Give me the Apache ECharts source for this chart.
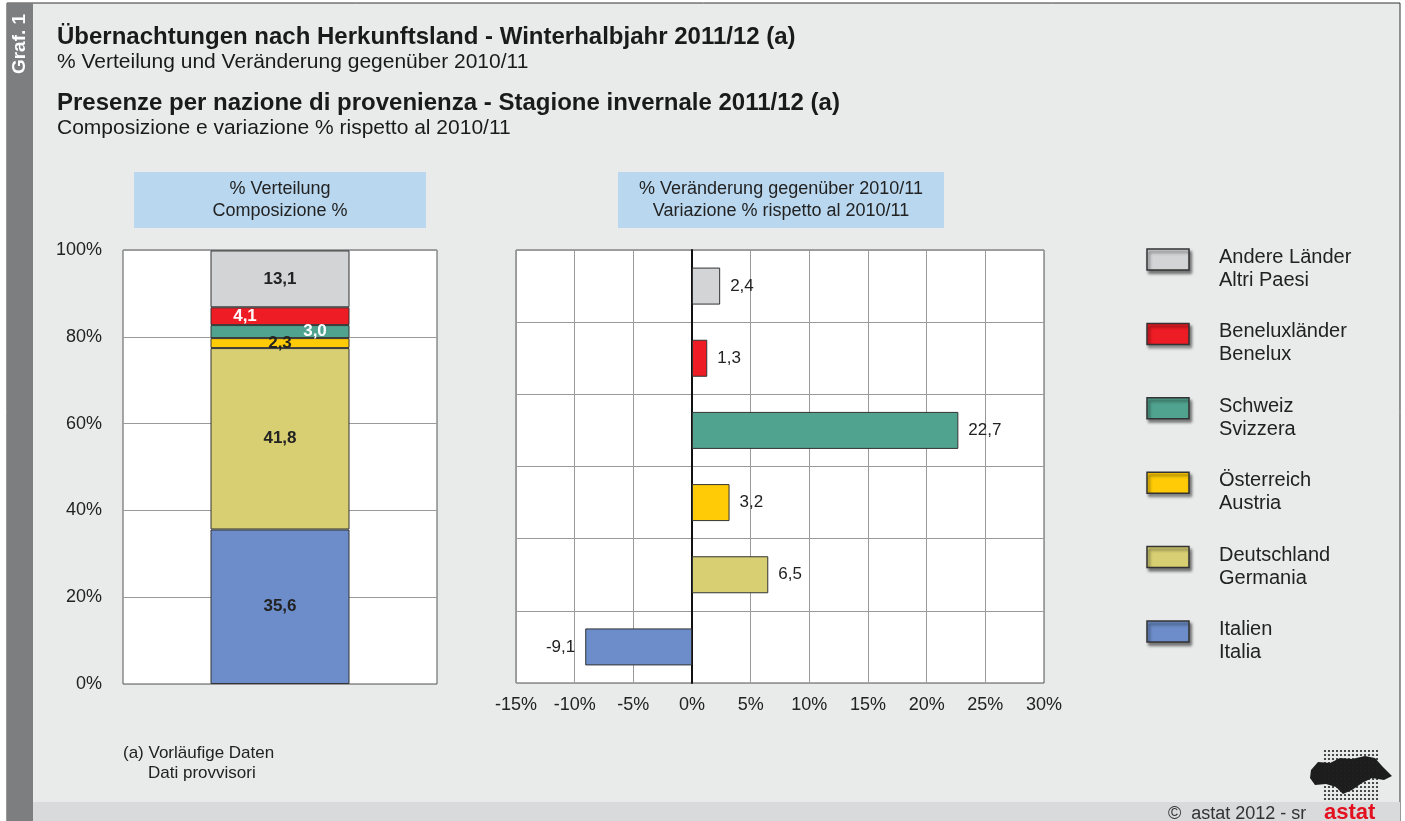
<!DOCTYPE html>
<html>
<head>
<meta charset="utf-8">
<script src="https://cdn.jsdelivr.net/npm/echarts@6/dist/echarts.min.js"></script>
<style>
  html, body { margin: 0; padding: 0; background: #fff; }
  #chart { width: 1405px; height: 821px; }
</style>
</head>
<body>
<div id="chart"></div>
<script>
// Daten (Anteil in %, Veränderung in %)
const seriesNames = ['Italien\nItalia', 'Deutschland\nGermania', 'Österreich\nAustria',
  'Schweiz\nSvizzera', 'Beneluxländer\nBenelux', 'Andere Länder\nAltri Paesi'];
const shareValues = [35.6, 41.8, 2.3, 3.0, 4.1, 13.1];
const changeValues = [-9.1, 6.5, 3.2, 22.7, 1.3, 2.4];
const colors = ['#6c8dc9', '#d7cf72', '#fecb06', '#50a38f', '#ee1c25', '#d3d4d6'];
const shareTicks = [0, 20, 40, 60, 80, 100];
const changeTicks = [-15, -10, -5, 0, 5, 10, 15, 20, 25, 30];

const fmt = v => v.toFixed(1).replace('.', ',');
const FONT = 'Liberation Sans, Arial, sans-serif';

// Label-Stil je Segment (Position im gestapelten Balken)
const shareLabel = [
  { color: '#222', offset: [0, 0] },
  { color: '#222', offset: [0, 0] },
  { color: '#222', offset: [0, 0] },
  { color: '#fff', offset: [35, 0] },
  { color: '#fff', offset: [-35, 0] },
  { color: '#222', offset: [0, 0] }
];

const leftSeries = seriesNames.map((name, i) => ({
  name: name,
  type: 'bar',
  stack: 'share',
  xAxisIndex: 0,
  yAxisIndex: 0,
  barWidth: 139,
  data: [shareValues[i]],
  itemStyle: { color: colors[i], borderColor: '#333', borderWidth: 1 },
  label: {
    show: true,
    position: 'inside',
    offset: shareLabel[i].offset,
    color: shareLabel[i].color,
    fontWeight: 'bold',
    fontSize: 17,
    fontFamily: FONT,
    formatter: p => fmt(p.value)
  },
  emphasis: { disabled: true }
}));

const rightSeries = {
  name: 'change',
  type: 'bar',
  xAxisIndex: 1,
  yAxisIndex: 1,
  barWidth: 37,
  data: changeValues.map((v, i) => ({
    value: v,
    itemStyle: { color: colors[i] },
    label: { position: v < 0 ? 'left' : 'right' }
  })),
  itemStyle: { borderColor: '#333', borderWidth: 1 },
  label: {
    show: true,
    distance: 10,
    color: '#222',
    fontSize: 17,
    fontFamily: FONT,
    formatter: p => fmt(p.value)
  },
  emphasis: { disabled: true }
};

// Legende (von oben nach unten)
const legendItems = [];
seriesNames.slice().reverse().forEach((name, k) => {
  const cy = 260 + k * 74.4;
  const c = colors[seriesNames.length - 1 - k];
  legendItems.push({
    type: 'rect', shape: { x: 1147, y: cy - 11, width: 42, height: 21 },
    style: { fill: c, stroke: '#333', lineWidth: 1.5, shadowColor: 'rgba(0,0,0,0.5)', shadowBlur: 3, shadowOffsetX: 2, shadowOffsetY: 3 }
  });
  legendItems.push({
    type: 'text', x: 1219, y: cy + 9,
    style: { text: name, fill: '#222', font: '20px ' + FONT, verticalAlign: 'middle', lineHeight: 23 }
  });
});

// Logo: Punkteraster
const dots = [];
for (let x = 1325; x <= 1377; x += 4) {
  for (let y = 751; y <= 800; y += 4) {
    dots.push({ type: 'circle', shape: { cx: x, cy: y, r: 1.1 }, style: { fill: '#222' }, silent: true });
  }
}

const option = {
  animation: false,
  backgroundColor: '#fff',
  textStyle: { fontFamily: FONT },
  graphic: [
    { type: 'rect', shape: { x: 7, y: 3, width: 1393, height: 830 }, style: { fill: '#e9eaea', stroke: '#333', lineWidth: 1 }, z: -10 },
    { type: 'rect', shape: { x: 33, y: 802, width: 1367, height: 30 }, style: { fill: '#d9dadb' }, z: -9 },
    { type: 'rect', shape: { x: 7, y: 3, width: 26, height: 830 }, style: { fill: '#7d7e80' }, z: -8 },
    { type: 'text', x: 20, y: 44, rotation: Math.PI / 2, style: { text: 'Graf. 1', fill: '#fff', font: 'bold 19px ' + FONT, align: 'center', verticalAlign: 'middle' } },
    { type: 'text', x: 57, y: 37, style: { text: 'Übernachtungen nach Herkunftsland - Winterhalbjahr 2011/12 (a)', fill: '#1a1a1a', font: 'bold 24px ' + FONT, verticalAlign: 'middle' } },
    { type: 'text', x: 57, y: 62, style: { text: '% Verteilung und Veränderung gegenüber 2010/11', fill: '#1a1a1a', font: '21px ' + FONT, verticalAlign: 'middle' } },
    { type: 'text', x: 57, y: 103, style: { text: 'Presenze per nazione di provenienza - Stagione invernale 2011/12 (a)', fill: '#1a1a1a', font: 'bold 24px ' + FONT, verticalAlign: 'middle' } },
    { type: 'text', x: 57, y: 128, style: { text: 'Composizione e variazione % rispetto al 2010/11', fill: '#1a1a1a', font: '21px ' + FONT, verticalAlign: 'middle' } },
    { type: 'rect', shape: { x: 134, y: 172, width: 292, height: 56 }, style: { fill: '#b9d7ef' } },
    { type: 'text', x: 280, y: 200, style: { text: '% Verteilung\nComposizione %', fill: '#222', font: '18px ' + FONT, align: 'center', verticalAlign: 'middle', lineHeight: 22 } },
    { type: 'rect', shape: { x: 618, y: 172, width: 326, height: 56 }, style: { fill: '#b9d7ef' } },
    { type: 'text', x: 781, y: 200, style: { text: '% Veränderung gegenüber 2010/11\nVariazione % rispetto al 2010/11', fill: '#222', font: '18px ' + FONT, align: 'center', verticalAlign: 'middle', lineHeight: 22 } },
    { type: 'text', x: 123, y: 753, style: { text: '(a) Vorläufige Daten', fill: '#222', font: '17px ' + FONT, verticalAlign: 'middle' } },
    { type: 'text', x: 148, y: 773, style: { text: 'Dati provvisori', fill: '#222', font: '17px ' + FONT, verticalAlign: 'middle' } },
    { type: 'text', x: 1168, y: 814, style: { text: '©  astat 2012 - sr', fill: '#333', font: '18px ' + FONT, verticalAlign: 'middle' } },
    { type: 'text', x: 1324, y: 813, style: { text: 'astat', fill: '#e3101f', font: 'bold 22px ' + FONT, verticalAlign: 'middle' } },
    { type: 'polygon', shape: { points: [[1311, 770], [1318, 762], [1330, 763], [1340, 758], [1352, 759], [1365, 756], [1375, 758], [1382, 766], [1392, 776], [1384, 780], [1372, 778], [1362, 783], [1352, 790], [1343, 794], [1336, 787], [1326, 784], [1315, 785], [1310, 778]] }, style: { fill: '#1d1d1d' } }
  ].concat(dots, legendItems),
  grid: [
    { left: 123, top: 250, width: 314, height: 434, show: true, backgroundColor: '#fff', borderColor: '#555', borderWidth: 1 },
    { left: 516, top: 250, width: 528, height: 433, show: true, backgroundColor: '#fff', borderColor: '#555', borderWidth: 1 }
  ],
  xAxis: [
    { type: 'category', gridIndex: 0, data: [''], axisLine: { show: false }, axisTick: { show: false }, axisLabel: { show: false } },
    {
      type: 'value', gridIndex: 1, min: changeTicks[0], max: changeTicks[changeTicks.length - 1], interval: 5,
      axisLine: { show: false }, axisTick: { show: false },
      axisLabel: { fontSize: 18, color: '#222', margin: 13, formatter: '{value}%' },
      splitLine: { show: true, lineStyle: { color: '#9a9a9a', width: 1 } }
    }
  ],
  yAxis: [
    {
      type: 'value', gridIndex: 0, min: shareTicks[0], max: shareTicks[shareTicks.length - 1], interval: 20,
      axisLine: { show: false }, axisTick: { show: false },
      axisLabel: { fontSize: 18, color: '#222', margin: 21, formatter: '{value}%' },
      splitLine: { show: true, lineStyle: { color: '#9a9a9a', width: 1 } }
    },
    {
      type: 'category', gridIndex: 1, data: seriesNames,
      axisLine: { show: true, onZero: true, lineStyle: { color: '#111', width: 2 } },
      axisTick: { show: false }, axisLabel: { show: false },
      splitLine: { show: true, lineStyle: { color: '#9a9a9a', width: 1 } }
    }
  ],
  series: leftSeries.concat([rightSeries])
};

const myChart = echarts.init(document.getElementById('chart'));
myChart.setOption(option);
</script>
</body>
</html>
